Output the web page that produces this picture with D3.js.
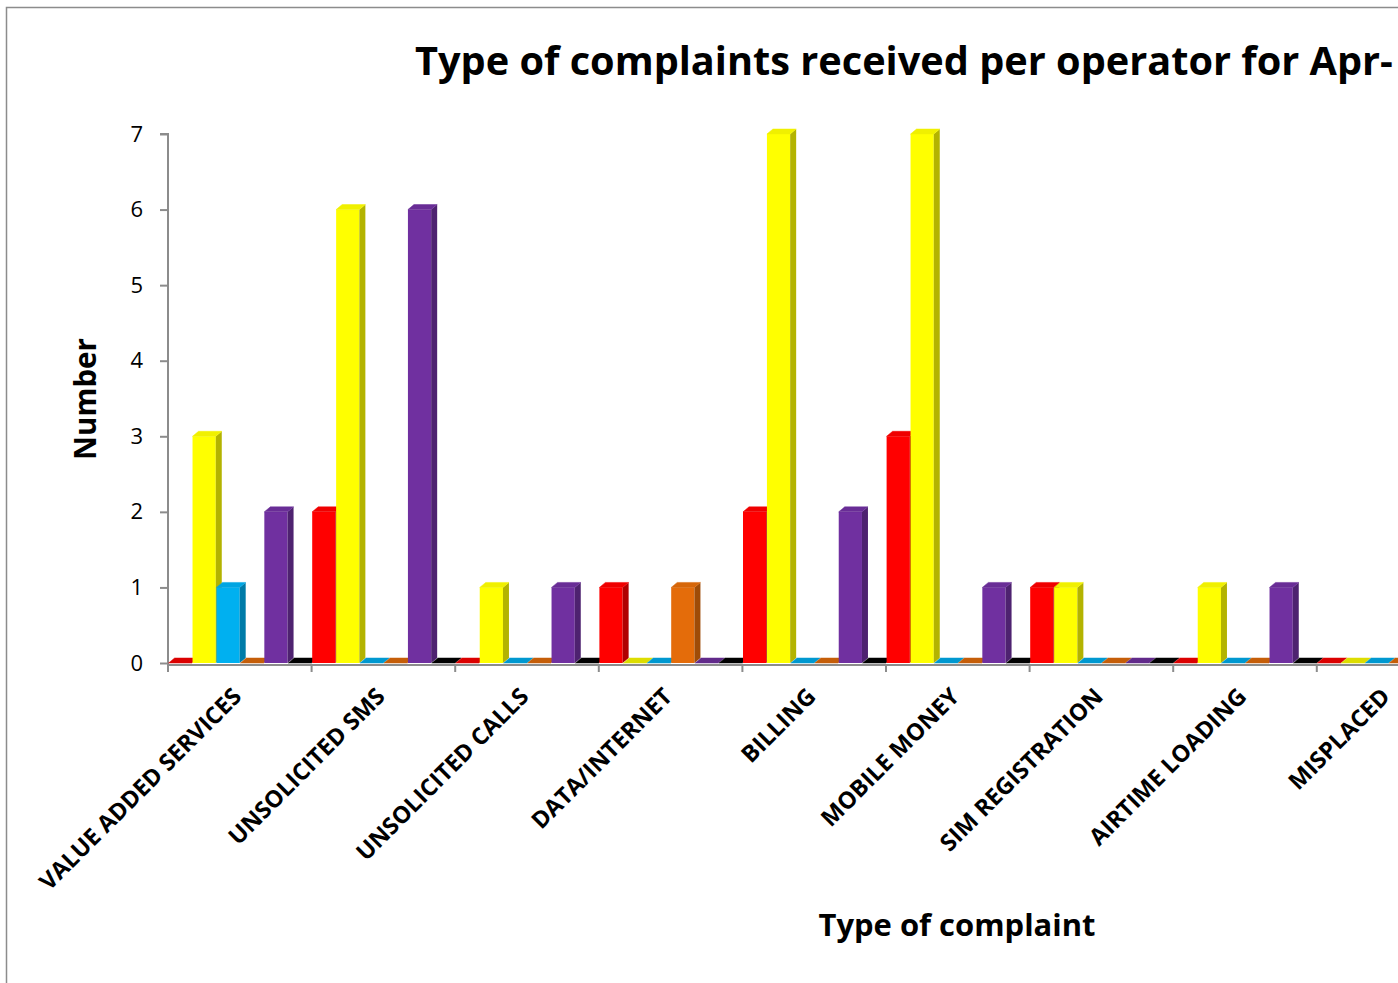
<!DOCTYPE html>
<html>
<head>
<meta charset="utf-8">
<script src="https://cdn.jsdelivr.net/npm/d3@7"></script>
<style>
  html, body { margin: 0; padding: 0; background: #fff; overflow: hidden; }
  svg { display: block; }
  text { font-family: "Open Sans", Lato, sans-serif; font-weight: 700; fill: #000; }
</style>
</head>
<body>
<svg id="chart" width="1398" height="983"></svg>
<script>
// ---- data ----
const categories = ["VALUE ADDED SERVICES", "UNSOLICITED SMS", "UNSOLICITED CALLS", "DATA/INTERNET",
                    "BILLING", "MOBILE MONEY", "SIM REGISTRATION", "AIRTIME LOADING", "MISPLACED"];
const seriesNames = ["Operator 1", "Operator 2", "Operator 3", "Operator 4", "Operator 5", "Operator 6"];
const operator1 = [0, 2, 0, 1, 2, 3, 1, 0, 0];
const operator2 = [3, 6, 1, 0, 7, 7, 1, 1, 0];
const operator3 = [1, 0, 0, 0, 0, 0, 0, 0, 0];
const operator4 = [0, 0, 0, 1, 0, 0, 0, 0, 0];
const operator5 = [2, 6, 1, 0, 2, 1, 0, 1, 0];
const operator6 = [0, 0, 0, 0, 0, 0, 0, 0, 0];
const seriesValues = [operator1, operator2, operator3, operator4, operator5, operator6];
const yTicks = [0, 1, 2, 3, 4, 5, 6, 7];
const titleText = "Type of complaints received per operator for Apr-";
const xTitle = "Type of complaint";
const yTitle = "Number";

const frontColors = ["#FF0000", "#FFFF00", "#00B0F0", "#E46C0A", "#7030A0", "#000000"];
const sideColors  = ["#B00000", "#B3B300", "#007BA8", "#9F4C07", "#4E2270", "#000000"];

// ---- layout ----
const svg = d3.select("#chart");
const x0 = 168, catW = 143.6;
const yBase = 663, yTop = 134;

const x = d3.scaleBand().domain(categories).range([x0, x0 + catW * categories.length]).padding(0);
const xs = d3.scaleBand().domain(d3.range(seriesNames.length)).range([0, x.bandwidth()]).padding(0);
const y = d3.scaleLinear().domain([0, 7]).range([yBase, yTop]);

// fit a text element's font size so that its length equals target
function fit(sel, target) {
  sel.attr("font-size", 100);
  const len = sel.node().getComputedTextLength();
  sel.attr("font-size", 100 * target / len);
  return sel;
}

// chart border
svg.append("path").attr("d", "M6.5,983 L6.5,7.5 L1398,7.5")
  .attr("fill", "none").attr("stroke", "#8c8c8c").attr("stroke-width", 1.5);

// title
fit(svg.append("text").attr("x", 415).attr("y", 75).text(titleText), 978);

// y axis
const yAxis = d3.axisLeft(y).tickValues(yTicks).tickSize(8).tickPadding(17).tickFormat(d3.format("d"));
const gy = svg.append("g").attr("transform", `translate(${x0},0)`).call(yAxis);
gy.select(".domain").attr("stroke", "#8c8c8c").attr("stroke-width", 2).attr("d", `M-8,${yTop}H0V${yBase + 2}`);
gy.selectAll(".tick line").attr("stroke", "#8c8c8c").attr("stroke-width", 2);
gy.selectAll(".tick text").attr("font-size", 22).style("font-weight", 400)
  .style("font-family", "'Open Sans', sans-serif");

// bars (3D columns)
const dx = 6, dy = 5;
const barW = xs.bandwidth() - 0.7;
const barsG = svg.append("g");
categories.forEach((c, ci) => {
  seriesValues.forEach((vals, si) => {
    const v = vals[ci];
    const bx = x(c) + xs(si) + 0.6;
    const by = y(v);
    const g = barsG.append("g");
    if (v > 0) {
      g.append("rect").attr("x", bx).attr("y", by).attr("width", barW).attr("height", yBase - by)
        .attr("fill", frontColors[si]);
      g.append("path")
        .attr("d", `M${bx + barW},${by} L${bx + barW + dx},${by - dy} L${bx + barW + dx},${yBase - dy} L${bx + barW},${yBase} Z`)
        .attr("fill", sideColors[si]);
    }
    const topCol = v > 0 ? d3.interpolateRgb(frontColors[si], sideColors[si])(0.2)
                         : d3.interpolateRgb(frontColors[si], sideColors[si])(0.45);
    g.append("path")
      .attr("d", `M${bx},${by} L${bx + dx},${by - dy} L${bx + barW + dx},${by - dy} L${bx + barW},${by} Z`)
      .attr("fill", topCol)
      .attr("stroke", topCol).attr("stroke-width", 0.5).attr("stroke-linejoin", "round");
  });
});

// x axis
const xAxis = d3.axisBottom(x).tickSize(0).tickFormat("");
const gx = svg.append("g").attr("transform", `translate(0,${yBase + 2})`).call(xAxis);
gx.select(".domain").attr("stroke", "#8c8c8c").attr("stroke-width", 2).attr("d", `M${x0},0H${x0 + catW * categories.length}`);
gx.selectAll(".tick").remove();
const boundaries = d3.range(categories.length + 1).map(i => x0 + i * catW);
gx.selectAll("line.bnd").data(boundaries).join("line").attr("class", "bnd")
  .attr("x1", d => d).attr("x2", d => d).attr("y1", 0).attr("y2", 7)
  .attr("stroke", "#8c8c8c").attr("stroke-width", 2);

// category labels
const labels = svg.append("g").selectAll("text").data(categories).join("text")
  .attr("text-anchor", "end")
  .text(d => d);
const probe = labels.filter((d, i) => i === 0);
fit(probe, 274);
const labelSize = probe.attr("font-size");
labels.attr("font-size", labelSize)
  .attr("transform", d => `translate(${x(d) + x.bandwidth() / 2 + 3},${698}) rotate(-45)`);

// axis titles
fit(svg.append("text").attr("transform", `translate(96,399) rotate(-90)`)
  .attr("text-anchor", "middle").text(yTitle), 122);
fit(svg.append("text").attr("x", 957).attr("y", 936).attr("text-anchor", "middle").text(xTitle), 277);
</script>
</body>
</html>
